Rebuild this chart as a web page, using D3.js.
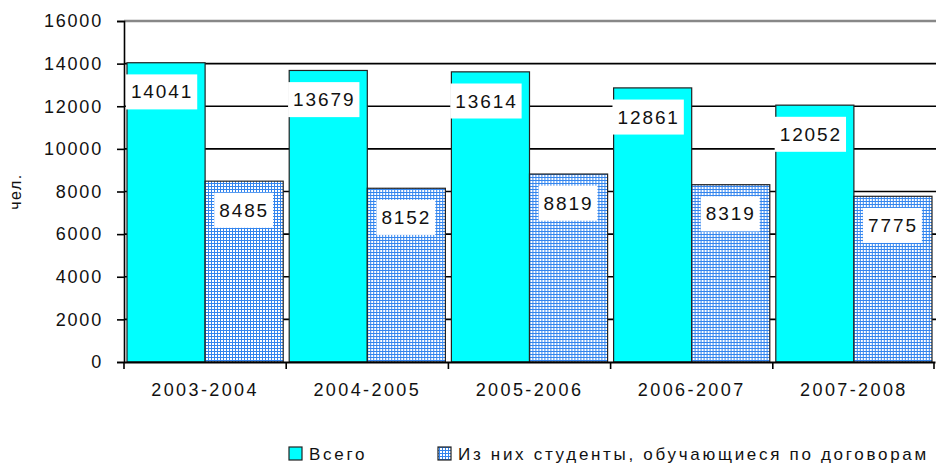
<!DOCTYPE html>
<html>
<head>
<meta charset="utf-8">
<script src="https://cdn.jsdelivr.net/npm/d3@7"></script>
<style>
  body { margin: 0; background: #fff; }
  text { font-family: "Liberation Sans", Arial, sans-serif; fill: #111; }
</style>
</head>
<body>
<div id="chart"></div>
<script>
// chart data
var years = ["2003-2004", "2004-2005", "2005-2006", "2006-2007", "2007-2008"];
var seriesNames = ["Всего", "Из них студенты, обучающиеся по договорам"];
var totalValues = [14041, 13679, 13614, 12861, 12052];
var contractValues = [8485, 8152, 8819, 8319, 7775];
var yTicks = [0, 2000, 4000, 6000, 8000, 10000, 12000, 14000, 16000];
var yTitle = "чел.";

var width = 936, height = 466;
var margin = { left: 124, right: 1, top: 21, bottom: 104 };

var svg = d3.select("#chart").append("svg")
    .attr("width", width)
    .attr("height", height);

// dotted grid fill for the second series
var defs = svg.append("defs");
var pat = defs.append("pattern")
    .attr("id", "grid")
    .attr("patternUnits", "userSpaceOnUse")
    .attr("width", 3).attr("height", 3);
pat.append("rect").attr("width", 3).attr("height", 3).attr("fill", "#3385ee");
pat.append("rect").attr("x", 1).attr("y", 1).attr("width", 2).attr("height", 2).attr("fill", "#ffffff");

var xScale = d3.scaleBand()
    .domain(years)
    .range([margin.left, width - margin.right]);

var inner = d3.scaleBand()
    .domain([0, 1])
    .range([3, xScale.bandwidth() - 3]);

var yScale = d3.scaleLinear()
    .domain([0, 16000])
    .range([height - margin.bottom, margin.top]);

// gridlines
svg.append("g").selectAll("line")
    .data(yTicks.filter(function (d) { return d > 0; }))
    .enter().append("line")
    .attr("x1", margin.left).attr("x2", width)
    .attr("y1", function (d) { return yScale(d); })
    .attr("y2", function (d) { return yScale(d); })
    .attr("stroke", function (d) { return d === 16000 ? "#888" : "#000"; })
    .attr("stroke-width", function (d) { return d === 16000 ? 2.5 : 1.6; });

var rows = years.map(function (y, i) {
    return { year: y, vals: [totalValues[i], contractValues[i]] };
});

var groups = svg.append("g").selectAll("g")
    .data(rows)
    .enter().append("g")
    .attr("transform", function (d) { return "translate(" + xScale(d.year) + ",0)"; });

groups.selectAll("rect.bar")
    .data(function (d) { return d.vals.map(function (v, k) { return { k: k, v: v }; }); })
    .enter().append("rect")
    .attr("class", "bar")
    .attr("x", function (d) { return inner(d.k); })
    .attr("width", inner.bandwidth())
    .attr("y", function (d) { return yScale(d.v); })
    .attr("height", function (d) { return yScale(0) - yScale(d.v); })
    .attr("fill", function (d) { return d.k === 0 ? "#00ffff" : "url(#grid)"; })
    .attr("stroke", "#222")
    .attr("stroke-width", 1.2);

// value labels in white boxes
var labels = groups.selectAll("g.lab")
    .data(function (d) { return d.vals.map(function (v, k) { return { k: k, v: v }; }); })
    .enter().append("g")
    .attr("class", "lab");

labels.append("text")
    .attr("x", function (d) { return inner(d.k) + inner.bandwidth() / 2 - (d.k === 0 ? 4 : 0); })
    .attr("y", function (d) { return yScale(d.v) + 29; })
    .attr("dy", "0.35em")
    .attr("text-anchor", "middle")
    .style("font-size", "19px")
    .style("letter-spacing", "1.9px")
    .text(function (d) { return d.v; });

labels.each(function () {
    var g = d3.select(this);
    var bb = g.select("text").node().getBBox();
    g.insert("rect", "text")
        .attr("x", bb.x - 5).attr("y", bb.y - 7)
        .attr("width", bb.width + 9).attr("height", bb.height + 14)
        .attr("fill", "#fff");
});

// y axis
var yAxis = d3.axisLeft(yScale).tickValues(yTicks).tickSize(7).tickPadding(14)
    .tickFormat(d3.format("d"));
var gy = svg.append("g")
    .attr("transform", "translate(" + margin.left + ",0)")
    .call(yAxis);
gy.select(".domain").attr("stroke", "#000").attr("stroke-width", 1.6);
gy.selectAll(".tick line").attr("stroke", "#000").attr("stroke-width", 1.6);
gy.selectAll("text").style("font-size", "18px").style("letter-spacing", "1.8px")
    .attr("fill", "#111").attr("font-family", null);

// x axis
var xAxis = d3.axisBottom(xScale).tickSize(0).tickPadding(21);
var gx = svg.append("g")
    .attr("transform", "translate(0," + yScale(0) + ")")
    .call(xAxis);
gx.select(".domain").attr("stroke", "#000").attr("stroke-width", 2);
gx.selectAll("text").style("font-size", "18px").style("letter-spacing", "2.4px")
    .attr("fill", "#111").attr("font-family", null);
gx.selectAll("line.sep")
    .data(years.concat(["end"]))
    .enter().append("line")
    .attr("class", "sep")
    .attr("x1", function (d, i) { return i < years.length ? xScale(d) : width - margin.right - 1; })
    .attr("x2", function (d, i) { return i < years.length ? xScale(d) : width - margin.right - 1; })
    .attr("y1", 0).attr("y2", 7)
    .attr("stroke", "#000").attr("stroke-width", 1.6);

// y title
svg.append("text")
    .attr("transform", "translate(21," + yScale(8000) + ") rotate(-90)")
    .attr("text-anchor", "middle")
    .style("font-size", "16px")
    .style("letter-spacing", "1.5px")
    .text(yTitle);

// legend
var legend = svg.append("g").attr("transform", "translate(289,447)");
var legendX = [0, 149];
seriesNames.forEach(function (name, i) {
    legend.append("rect")
        .attr("x", legendX[i]).attr("y", 0)
        .attr("width", 13).attr("height", 13)
        .attr("fill", i === 0 ? "#00ffff" : "url(#grid)")
        .attr("stroke", "#222").attr("stroke-width", 1.2);
    legend.append("text")
        .attr("x", legendX[i] + 20).attr("y", 13)
        .style("font-size", "17px")
        .style("letter-spacing", "2.7px")
        .text(name);
});
</script>
</body>
</html>
